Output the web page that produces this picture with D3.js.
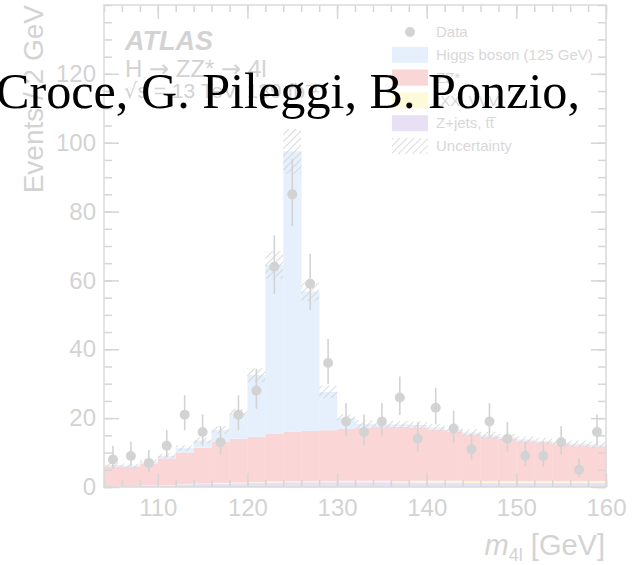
<!DOCTYPE html>
<html>
<head>
<meta charset="utf-8">
<script src="https://cdn.jsdelivr.net/npm/d3@7/dist/d3.min.js"></script>
<style>
  body { margin: 0; background: #fff; }
  svg { display: block; font-family: "Liberation Sans", Arial, sans-serif; }
</style>
</head>
<body>
<svg width="634" height="565"></svg>
<script>
// bins of 2 GeV, low edge
const binLow = [104,106,108,110,112,114,116,118,120,122,124,126,128,130,132,134,136,138,140,142,144,146,148,150,152,154,156,158];
// stacked expectations (bottom to top)
const zjets = [0.2,0.2,0.3,0.5,0.8,0.9,1.0,1.1,1.2,1.3,1.4,1.4,1.4,1.4,1.4,1.4,1.3,1.3,1.3,1.3,1.2,1.2,1.2,1.2,1.2,1.2,1.2,1.2];
const txx   = [0.1,0.1,0.1,0.1,0.1,0.1,0.2,0.2,0.2,0.3,0.3,0.3,0.3,0.4,0.4,0.4,0.4,0.5,0.5,0.5,0.5,0.5,0.5,0.5,0.5,0.5,0.5,0.5];
const zz    = [5.7,5.5,6.4,7.7,9.1,10.4,11.9,12.7,13.2,13.8,14.3,14.6,14.8,15.1,15.4,15.6,15.8,15.5,14.8,14.2,13.6,12.8,12.3,11.6,11.3,10.7,10.4,10.1];
const higgs = [0.4,0.4,0.5,0.7,1.3,2.1,3.5,7.4,17.9,49.1,81.5,40.5,11.1,3.1,1.1,0.8,0.7,0.7,0.7,0.6,0.5,0.5,0.5,0.5,0.4,0.5,0.5,0.5];
const uncert = [0.6,0.6,0.6,0.7,0.8,0.9,1.1,1.3,2.0,4.0,6.5,2.7,1.8,1.2,1.1,1.0,1.0,1.0,1.0,1.0,1.0,1.0,0.9,0.9,0.9,0.9,0.9,0.9];
// observed events
const dataN   = [8,9,7,12,21,16,13,21,28,64,85,59,36,19,16,19,26,14,23,17,11,19,14,9,9,13,5,16];
const errUp   = [3.95,4.11,3.77,4.57,5.64,5.08,4.71,5.64,6.31,9.06,10.25,8.74,7.01,5.43,5.08,5.43,6.13,4.84,5.84,5.20,4.42,5.43,4.84,4.11,4.11,4.71,3.38,5.08];
const errDown = [2.77,2.94,2.58,3.41,4.55,3.96,3.55,4.55,5.27,8.0,9.2,7.67,5.98,4.33,3.96,4.33,5.08,3.69,4.77,4.09,3.26,4.33,3.69,2.94,2.94,3.55,2.16,3.96];

const xTicksMajor = [110,120,130,140,150,160];
const yTicksMajor = [0,20,40,60,80,100,120];
const legendLabels = ["Data","Higgs boson (125 GeV)","ZZ*","tXX, VVV","Z+jets, t\u0074\u0305","Uncertainty"];

const binWidth = 2;
const keys = ["zjets","txx","zz","higgs"];
const colors = { zjets: "#e8e0f4", txx: "#fcfad8", zz: "#fad6d6", higgs: "#e6f0fc" };
const faint = "#d3d3d3";
const symFont = "'DejaVu Sans', sans-serif";

const svg = d3.select("svg");
const x = d3.scaleLinear().domain([104,160]).range([104,606]);
const y = d3.scaleLinear().domain([0,140]).range([487,5]);

const rows = binLow.map((b,i) => ({ low: b, zjets: zjets[i], txx: txx[i], zz: zz[i], higgs: higgs[i] }));
const stacked = d3.stack().keys(keys)(rows);

// hatch pattern
const defs = svg.append("defs");
const pat = defs.append("pattern")
  .attr("id","hatch")
  .attr("patternUnits","userSpaceOnUse")
  .attr("width",5).attr("height",5)
  .attr("patternTransform","rotate(45)");
pat.append("line")
  .attr("x1",0).attr("y1",0).attr("x2",0).attr("y2",5)
  .attr("stroke","#cdcdcd").attr("stroke-width",1.4);

const plot = svg.append("g");

stacked.forEach(layer => {
  plot.append("g").selectAll("rect")
    .data(layer)
    .enter().append("rect")
    .attr("x", d => x(d.data.low))
    .attr("width", d => x(d.data.low + binWidth) - x(d.data.low) + 0.3)
    .attr("y", d => y(d[1]))
    .attr("height", d => y(d[0]) - y(d[1]))
    .attr("fill", colors[layer.key]);
});

// uncertainty band
const totals = stacked[stacked.length-1].map(d => d[1]);
plot.append("g").selectAll("rect")
  .data(binLow)
  .enter().append("rect")
  .attr("x", d => x(d))
  .attr("width", d => x(d + binWidth) - x(d))
  .attr("y", (d,i) => y(totals[i] + uncert[i]))
  .attr("height", (d,i) => y(totals[i] - uncert[i]) - y(totals[i] + uncert[i]))
  .attr("fill","url(#hatch)");

// axes frame and ticks
const tickColor = "#d6d6d6";
function drawAxis(axis, tx, ty) {
  const g = svg.append("g").attr("transform", `translate(${tx},${ty})`).call(axis);
  g.select(".domain").remove();
  g.selectAll("line").attr("stroke", tickColor).attr("stroke-width", 1.5);
  g.selectAll("text").attr("fill", faint).attr("font-size", 24);
  return g;
}
const xMinor = d3.range(104, 161, 2);
const yMinor = d3.range(0, 141, 5);

drawAxis(d3.axisBottom(x).tickValues(xMinor).tickSize(-7).tickFormat(""), 0, 487);
drawAxis(d3.axisTop(x).tickValues(xMinor).tickSize(-7).tickFormat(""), 0, 5);
drawAxis(d3.axisBottom(x).tickValues(xTicksMajor).tickSize(-14).tickPadding(12), 0, 487);
drawAxis(d3.axisTop(x).tickValues(xTicksMajor).tickSize(-14).tickFormat(""), 0, 5);

drawAxis(d3.axisLeft(y).tickValues(yMinor).tickSize(-8).tickFormat(""), 104, 0);
drawAxis(d3.axisRight(y).tickValues(yMinor).tickSize(-8).tickFormat(""), 606, 0);
drawAxis(d3.axisLeft(y).tickValues(yTicksMajor).tickSize(-15).tickPadding(8), 104, 0);
drawAxis(d3.axisRight(y).tickValues(yTicksMajor).tickSize(-15).tickFormat(""), 606, 0);

svg.append("rect")
  .attr("x", x(104)).attr("y", y(140))
  .attr("width", x(160) - x(104)).attr("height", y(0) - y(140))
  .attr("fill","none").attr("stroke","#dadada").attr("stroke-width",1.5);

// data points
const pts = svg.append("g");
pts.selectAll("line")
  .data(dataN)
  .enter().append("line")
  .attr("x1", (d,i) => x(binLow[i] + binWidth/2))
  .attr("x2", (d,i) => x(binLow[i] + binWidth/2))
  .attr("y1", (d,i) => y(d + errUp[i]))
  .attr("y2", (d,i) => y(d - errDown[i]))
  .attr("stroke", faint).attr("stroke-width", 1.6);
pts.selectAll("circle")
  .data(dataN)
  .enter().append("circle")
  .attr("cx", (d,i) => x(binLow[i] + binWidth/2))
  .attr("cy", d => y(d))
  .attr("r", 5)
  .attr("fill", faint);

// axis titles
svg.append("text")
  .attr("transform","translate(43,5) rotate(-90)")
  .attr("text-anchor","end")
  .attr("font-size",28)
  .attr("fill", faint)
  .text("Events / 2 GeV");

const xt = svg.append("text")
  .attr("x",605).attr("y",555)
  .attr("text-anchor","end")
  .attr("font-size",29)
  .attr("fill", faint);
xt.append("tspan").attr("font-style","italic").text("m");
xt.append("tspan").attr("font-size",18).attr("dy",6).text("4l");
xt.append("tspan").attr("dy",-6).text(" [GeV]");

// ATLAS labels
svg.append("text")
  .attr("x",125).attr("y",50)
  .attr("font-size",27).attr("font-weight","bold").attr("font-style","italic")
  .attr("fill", faint)
  .text("ATLAS");
const hl = svg.append("text")
  .attr("x",125).attr("y",77)
  .attr("font-size",24)
  .attr("fill", faint);
hl.append("tspan").text("H ");
hl.append("tspan").attr("font-family", symFont).text("\u2192");
hl.append("tspan").text(" ZZ* ");
hl.append("tspan").attr("font-family", symFont).text("\u2192");
hl.append("tspan").text(" 4l");
const en = svg.append("text")
  .attr("x",124).attr("y",98)
  .attr("font-size",21)
  .attr("fill", faint);
en.append("tspan").attr("font-family", symFont).text("\u221A");
en.append("tspan").text("s = 13 TeV, 139 fb\u207B\u00B9");

// legend
const legY = d3.scaleLinear().domain([0,5]).range([32,146]);
const leg = svg.append("g");
legendLabels.forEach((lab,i) => {
  const cy = legY(i);
  if (i === 0) {
    leg.append("circle").attr("cx",410).attr("cy",cy).attr("r",5).attr("fill",faint);
  } else {
    const fill = i === 5 ? "url(#hatch)" : colors[keys[4 - i]];
    leg.append("rect")
      .attr("x",392).attr("y",cy - 8)
      .attr("width",36).attr("height",16)
      .attr("fill", fill);
  }
  leg.append("text")
    .attr("x",436).attr("y",cy)
    .attr("dy","0.35em")
    .attr("font-size",15)
    .attr("fill","#d8d8d8")
    .text(lab);
});

// overlaid author line
svg.append("text")
  .attr("x",-4).attr("y",108)
  .attr("font-family","'Liberation Serif', 'DejaVu Serif', serif")
  .attr("font-size",50)
  .attr("fill","#000")
  .attr("textLength",584)
  .attr("lengthAdjust","spacingAndGlyphs")
  .text("Croce, G. Pileggi, B. Ponzio,");
</script>
</body>
</html>
